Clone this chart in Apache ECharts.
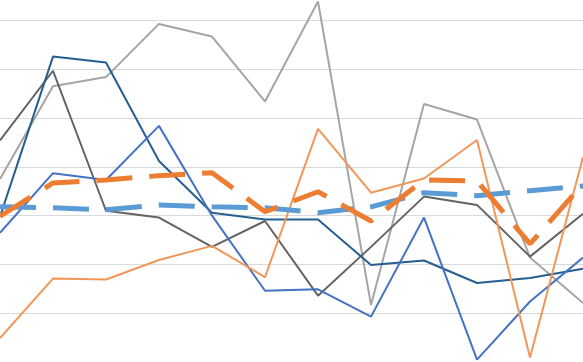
<!DOCTYPE html>
<html>
<head>
<meta charset="utf-8">
<script src="https://cdn.jsdelivr.net/npm/echarts@6/dist/echarts.min.js"></script>
<style>
html,body{margin:0;padding:0;background:#fff;}
#c{width:583px;height:362px;}
</style>
</head>
<body>
<div id="c"></div>
<script>
var categories = ['1','2','3','4','5','6','7','8','9','10','11','12'];
var yMin = 0, yMax = 7.42, yStep = 1;

var lightGray  = [3.75, 5.65, 5.84, 6.93, 6.67, 5.34, 7.39, 1.17, 5.29, 4.97, 2.14, 1.21];
var darkGray   = [4.54, 5.97, 3.10, 2.96, 2.36, 2.89, 1.36, 2.36, 3.39, 3.22, 2.16, 3.04];
var darkBlue   = [2.98, 6.26, 6.14, 4.12, 3.06, 2.92, 2.92, 1.99, 2.08, 1.62, 1.72, 1.91];
var midBlue    = [2.65, 3.87, 3.73, 4.84, 3.00, 1.46, 1.49, 0.93, 2.96, 0.05, 1.24, 2.14];
var thinOrange = [0.49, 1.71, 1.69, 2.09, 2.38, 1.74, 4.78, 3.47, 3.76, 4.55, 0.09, 4.20];
var blueDash   = [3.18, 3.16, 3.12, 3.22, 3.18, 3.16, 3.06, 3.18, 3.47, 3.41, 3.51, 3.61];
var orangeDash = [2.99, 3.67, 3.73, 3.82, 3.88, 3.08, 3.49, 2.89, 3.73, 3.71, 2.42, 3.65];

function thin(name, data, color){
  return {name:name, type:'line', data:data, symbol:'none', smooth:false, clip:false,
    lineStyle:{color:color, width:2}, itemStyle:{color:color}};
}
function dashed(name, data, color){
  return {name:name, type:'line', data:data, symbol:'none', smooth:false, clip:false,
    lineStyle:{color:color, width:5, type:[36,17], cap:'butt'}, itemStyle:{color:color}};
}

var chart = echarts.init(document.getElementById('c'), null, {renderer:'canvas'});
chart.setOption({
  animation:false,
  grid:{left:0, right:0, top:0, bottom:0, containLabel:false},
  xAxis:{type:'category', data:categories, boundaryGap:false,
    axisLine:{show:false}, axisTick:{show:false}, axisLabel:{show:false}, splitLine:{show:false}},
  yAxis:{type:'value', min:yMin, max:yMax, interval:yStep,
    axisLine:{show:false}, axisTick:{show:false}, axisLabel:{show:false},
    splitLine:{show:true, showMaxLine:false, showMinLine:false, lineStyle:{color:'#d9d9d9', width:1}}},
  series:[
    thin('S1', lightGray, '#a5a5a5'),
    thin('S2', darkGray, '#636363'),
    thin('S3', darkBlue, '#255e91'),
    thin('S4', midBlue, '#4472c4'),
    thin('S5', thinOrange, '#f1975a'),
    dashed('S6', blueDash, '#5b9bd5'),
    dashed('S7', orangeDash, '#ed7d31')
  ]
});
</script>
</body>
</html>
